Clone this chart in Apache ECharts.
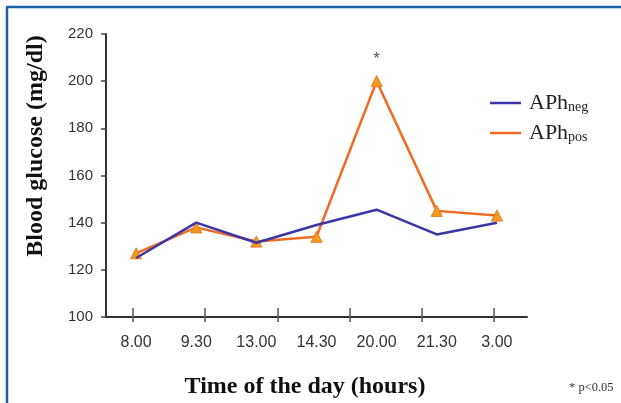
<!DOCTYPE html>
<html>
<head>
<meta charset="utf-8">
<script src="https://cdn.jsdelivr.net/npm/echarts@6/dist/echarts.min.js"></script>
<style>
html,body{margin:0;padding:0;background:#fff;}
#chart{width:621px;height:403px;}
</style>
</head>
<body>
<div id="chart"></div>
<script>
var categories = ['8.00', '9.30', '13.00', '14.30', '20.00', '21.30', '3.00'];
var aphNeg = [125, 140, 131.5, 139, 145.5, 135, 140];
var aphPos = [127, 138, 132, 134, 200, 145, 143];
var yTicks = { min: 100, max: 220, interval: 20 };
var tickSlots = [0, 1, 2, 3, 4, 5];

var chart = echarts.init(document.getElementById('chart'), null, { renderer: 'canvas' });

var posData = aphPos.map(function (v, i) {
  if (categories[i] === '20.00') {
    return { value: v, label: { show: true, formatter: '*', position: 'top', distance: 8, color: '#555', fontSize: 16, fontFamily: 'Liberation Sans' } };
  }
  return v;
});

var option = {
  backgroundColor: '#ffffff',
  animation: false,
  grid: [
    { left: 106, right: 94, top: 34, bottom: 86 },
    { left: 133, right: 127, top: 34, bottom: 81 }
  ],
  xAxis: [
    {
      type: 'category',
      gridIndex: 0,
      data: categories,
      boundaryGap: true,
      axisLine: { show: true, lineStyle: { color: '#333', width: 2 } },
      axisTick: { show: false },
      axisLabel: { color: '#333', fontSize: 16, fontFamily: 'Liberation Sans', margin: 18 },
      splitLine: { show: false }
    },
    {
      type: 'value',
      gridIndex: 1,
      min: tickSlots[0],
      max: tickSlots[tickSlots.length - 1],
      interval: 1,
      axisLine: { show: false },
      axisTick: { show: true, inside: true, length: 14, lineStyle: { color: '#555', width: 1.5 } },
      axisLabel: { show: false },
      splitLine: { show: false }
    }
  ],
  yAxis: [
    {
      type: 'value',
      gridIndex: 0,
      min: yTicks.min,
      max: yTicks.max,
      interval: yTicks.interval,
      axisLine: { show: true, lineStyle: { color: '#333', width: 2 } },
      axisTick: { show: true, length: 5, lineStyle: { color: '#444', width: 1.5 } },
      axisLabel: { color: '#333', fontSize: 15, fontFamily: 'Liberation Sans', margin: 13 },
      splitLine: { show: false }
    },
    {
      type: 'value',
      gridIndex: 1,
      show: false
    }
  ],
  legend: {
    orient: 'vertical',
    left: 485,
    top: 83,
    itemGap: 4,
    icon: 'rect',
    itemWidth: 31,
    itemHeight: 2.5,
    data: [
      { name: 'APhneg', itemStyle: { color: '#3b36a8', borderWidth: 0 } },
      { name: 'APhpos', itemStyle: { color: '#f26a22', borderWidth: 0 } }
    ],
    formatter: function (name) {
      return name === 'APhneg' ? '{a|APh}{b|neg}' : '{a|APh}{b|pos}';
    },
    textStyle: {
      padding: [0, 0, 0, 3],
      rich: {
        a: { fontFamily: 'Liberation Serif', fontSize: 22, color: '#222', lineHeight: 22 },
        b: { fontFamily: 'Liberation Serif', fontSize: 14, color: '#222', lineHeight: 14, padding: [12, 0, 0, 0], verticalAlign: 'bottom' }
      }
    }
  },
  series: [
    {
      name: 'APhpos',
      type: 'line',
      xAxisIndex: 0,
      yAxisIndex: 0,
      data: posData,
      symbol: 'triangle',
      symbolSize: 11,
      itemStyle: { color: '#f39a1e', borderColor: '#f07a20', borderWidth: 1 },
      lineStyle: { color: '#f26a22', width: 2.5 },
      z: 2
    },
    {
      name: 'APhneg',
      type: 'line',
      xAxisIndex: 0,
      yAxisIndex: 0,
      data: aphNeg,
      symbol: 'none',
      itemStyle: { color: '#3b36a8' },
      lineStyle: { color: '#3b36a8', width: 2.5 },
      z: 3
    }
  ],
  graphic: [
    { type: 'line', shape: { x1: 7, y1: 7, x2: 7, y2: 403 }, style: { stroke: '#1c5fa8', lineWidth: 2.5 } },
    { type: 'line', shape: { x1: 6, y1: 7, x2: 621, y2: 7 }, style: { stroke: '#1c5fa8', lineWidth: 2.5 } },
    {
      type: 'text', x: 36, y: 146, rotation: Math.PI / 2,
      style: { text: 'Blood glucose (mg/dl)', fontFamily: 'Liberation Serif', fontWeight: 'bold', fontSize: 24, fill: '#111', textAlign: 'center', textVerticalAlign: 'middle' }
    },
    {
      type: 'text', x: 305, y: 387,
      style: { text: 'Time of the day (hours)', fontFamily: 'Liberation Serif', fontWeight: 'bold', fontSize: 24, fill: '#111', textAlign: 'center', textVerticalAlign: 'middle' }
    },
    {
      type: 'text', x: 569, y: 388,
      style: { text: '* p<0.05', fontFamily: 'Liberation Serif', fontSize: 12.5, fill: '#333', textAlign: 'left', textVerticalAlign: 'middle' }
    }
  ]
};
chart.setOption(option);
</script>
</body>
</html>
